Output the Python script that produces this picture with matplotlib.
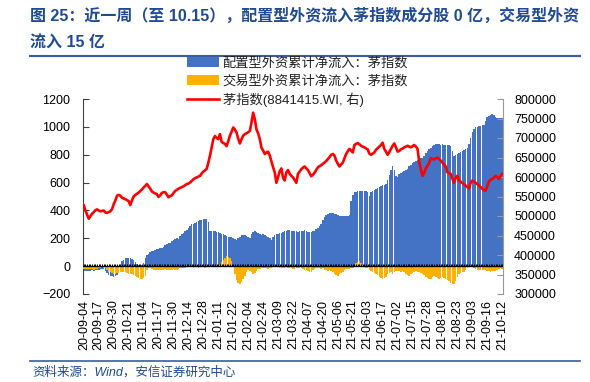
import numpy as np
import matplotlib.pyplot as plt
from matplotlib.patches import Patch
from matplotlib.lines import Line2D

plt.rcParams['font.family'] = ['Liberation Sans', 'Noto Sans CJK SC']

# x tick labels (every 9th trading day)
tick_labels = ['20-09-04', '20-09-17', '20-09-30', '20-10-21', '20-11-04', '20-11-17',
               '20-11-30', '20-12-14', '20-12-28', '21-01-11', '21-01-22', '21-02-04',
               '21-02-24', '21-03-09', '21-03-22', '21-04-07', '21-04-20', '21-05-06',
               '21-05-21', '21-06-03', '21-06-17', '21-07-02', '21-07-15', '21-07-28',
               '21-08-10', '21-08-23', '21-09-03', '21-09-16', '21-10-12']

# 配置型外资累计净流入 (亿, left axis)
alloc_flow = [
    -35, -36, -38, -35, -33, -30, -32, -30, -28, -25,
    -22, -18, -20, -35, -50, -62, -70, -74, -75, -70,
    -62, -40, 10, 35, 45, 55, 62, 60, 58, 50,
    45, 30, 15, 5, 2, 5, 20, 55, 80, 88,
    100, 110, 108, 115, 120, 125, 130, 133, 140, 150,
    157, 163, 169, 178, 188, 196, 205, 195, 215, 228,
    240, 250, 262, 276, 290, 300, 306, 312, 318, 324,
    328, 334, 340, 342, 340, 320, 252, 250, 255, 252,
    248, 245, 240, 232, 228, 222, 215, 210, 212, 208,
    200, 195, 190, 200, 210, 222, 225, 220, 215, 208,
    205, 230, 245, 250, 243, 235, 228, 225, 230, 225,
    218, 212, 205, 190, 210, 225, 230, 232, 235, 240,
    245, 250, 252, 258, 262, 255, 250, 252, 255, 248,
    250, 253, 255, 258, 250, 245, 248, 246, 250, 255,
    268, 275, 290, 300, 330, 355, 365, 372, 378, 383,
    380, 375, 372, 365, 362, 360, 358, 362, 360, 358,
    365, 470, 514, 530, 535, 538, 540, 538, 536, 540,
    538, 530, 502, 530, 540, 548, 552, 562, 568, 575,
    580, 585, 590, 620, 657, 690, 716, 690, 650, 640,
    660, 671, 678, 685, 693, 700, 716, 725, 738, 748,
    755, 764, 770, 776, 776, 790, 812, 825, 838, 850,
    859, 870, 876, 875, 874, 872, 875, 873, 871, 872,
    870, 860, 830, 788, 800, 808, 815, 822, 828, 835,
    840, 847, 880, 920, 966, 985, 1000, 1002, 1005, 1008,
    1010, 1014, 1040, 1073, 1080, 1085, 1090, 1085, 1070, 1062,
    1060, 1065, 1062,
]

# 交易型外资累计净流入 (亿, left axis)
trade_flow = [
    -20, -22, -24, -20, -18, -22, -25, -20, -18, -15,
    -10, -8, -10, -12, -30, -40, -45, -50, -55, -57,
    -52, -48, -45, -42, -40, -45, -50, -55, -60, -58,
    -65, -72, -78, -85, -90, -93, -85, -70, -30, -15,
    -10, -20, -25, -28, -30, -28, -25, -30, -28, -22,
    -25, -30, -28, -25, -22, -25, -28, -20, -15, -12,
    -15, -10, 5, 10, -5, -8, -10, -6, -8, -10,
    -7, -5, -8, -10, -6, -4, -3, -5, -8, -6,
    -4, -2, 10, 30, 45, 60, 72, 68, 55, 35,
    10, -60, -100, -120, -128, -115, -95, -70, -40, -30,
    -35, -45, -57, -50, -35, -20, -18, -15, -12, -10,
    -15, -18, -12, -10, -8, -5, 5, -5, -10, -12,
    -15, -10, -8, -12, -15, -10, -18, -20, -15, -12,
    -10, -15, -20, -25, -30, -36, -45, -40, -30, -20,
    -15, -12, -15, -18, -15, -25, -30, -32, -28, -35,
    -45, -55, -62, -69, -60, -52, -45, -30, -20, -18,
    -22, -15, -10, 5, 20, 30, 38, 25, 10, -8,
    -10, -12, -30, -38, -45, -50, -55, -62, -75, -85,
    -93, -88, -75, -60, -50, -45, -55, -40, -32, -35,
    -38, -40, -35, -45, -55, -62, -69, -60, -50, -42,
    -35, -40, -45, -50, -55, -65, -75, -85, -90, -93,
    -80, -70, -75, -85, -90, -82, -78, -85, -95, -100,
    -110, -118, -125, -128, -110, -80, -60, -50, -45, -40,
    -30, -10, -5, -3, -8, -15, -20, -25, -28, -30,
    -25, -28, -30, -35, -38, -40, -36, -32, -38, -25,
    -18, -15, -20,
]

# 茅指数 8841415.WI (thousand points, right axis)
mao_index_k = [
    527, 514, 503, 493, 500, 506, 510, 515, 517, 514,
    512, 513, 514, 509, 508, 510, 512, 518, 530, 540,
    552, 554, 552, 547, 545, 543, 541, 538, 528, 540,
    550, 554, 557, 560, 564, 568, 573, 577, 582, 576,
    570, 563, 560, 558, 556, 549, 553, 559, 561, 561,
    555, 548, 551, 553, 559, 564, 567, 570, 572, 574,
    576, 579, 582, 583, 586, 590, 594, 597, 599, 601,
    603, 609, 614, 617, 621, 637, 655, 676, 697, 705,
    700, 697, 710, 690, 687, 685, 679, 692, 706, 716,
    727, 722, 714, 698, 686, 697, 706, 710, 712, 715,
    718, 740, 765, 748, 722, 712, 697, 675, 668, 659,
    663, 665, 655, 640, 625, 612, 585, 600, 615, 622,
    598, 591, 612, 618, 608, 603, 599, 592, 585, 608,
    614, 620, 624, 627, 622, 618, 610, 602, 606, 611,
    618, 625, 628, 630, 634, 637, 641, 646, 651, 657,
    659, 655, 642, 634, 627, 632, 637, 648, 659, 666,
    672, 668, 663, 682, 685, 687, 684, 680, 678, 676,
    673, 671, 660, 657, 660, 663, 670, 674, 678, 682,
    688, 672, 665, 657, 664, 672, 680, 686, 676, 665,
    667, 671, 673, 676, 678, 680, 678, 676, 679, 682,
    678, 672, 640, 620, 603, 610, 622, 629, 636, 648,
    646, 645, 648, 650, 646, 642, 637, 632, 627, 612,
    610, 608, 596, 585, 598, 603, 591, 588, 585, 581,
    578, 574, 571, 585, 591, 588, 585, 582, 578, 574,
    570, 566, 565, 576, 588, 593, 595, 598, 603, 600,
    595, 602, 608,
]

title_line1 = '图 25：近一周（至 10.15），配置型外资流入茅指数成分股 0 亿，交易型外资'
title_line2 = '流入 15 亿'
source_text = '资料来源：Wind，安信证券研究中心'
legend_labels = ['配置型外资累计净流入：茅指数', '交易型外资累计净流入：茅指数', '茅指数(8841415.WI, 右)']


def main():
    n = len(alloc_flow)
    x = np.arange(n)
    blue = '#4472C4'
    orange = '#FFB000'
    navy = '#1F4A96'

    fig = plt.figure(figsize=(5.9, 3.82), dpi=100)
    ax = fig.add_axes([83 / 590, 88 / 382, 420 / 590, 195 / 382])

    ax.bar(x, alloc_flow, width=0.9, color=blue, linewidth=0, zorder=2)
    ax.bar(x, trade_flow, width=0.9, color=orange, linewidth=0, zorder=3)
    ax.axhline(0, color='black', lw=1.0, zorder=4)
    ax.vlines(x, 0, 18, color='black', lw=0.7, zorder=4)

    ax.set_ylim(-200, 1200)
    ax.set_yticks(range(-200, 1201, 200))
    ax.set_xlim(-0.5, n - 0.5)
    ax.set_xticks(np.arange(0, n, 9))
    ax.set_xticklabels(tick_labels, rotation=90, fontsize=9)
    ax.tick_params(axis='x', length=0, pad=4)
    ax.tick_params(axis='y', direction='in', length=4, labelsize=9, pad=9, color='#404040')
    for s in ['top', 'right', 'bottom']:
        ax.spines[s].set_visible(False)
    ax.spines['left'].set_color('#404040')

    ax2 = ax.twinx()
    ax2.plot(x, np.array(mao_index_k) * 1000, color='#FF0000', lw=1.9, zorder=5)
    ax2.set_ylim(300000, 800000)
    ax2.set_yticks(range(300000, 800001, 50000))
    ax2.tick_params(axis='y', direction='in', length=4, labelsize=9, pad=8, color='#999999')
    for s in ['top', 'left', 'bottom']:
        ax2.spines[s].set_visible(False)
    ax2.spines['right'].set_color('#999999')

    handles = [Patch(facecolor=blue, edgecolor='none'),
               Patch(facecolor=orange, edgecolor='none'),
               Line2D([], [], color='#FF0000', lw=1.9)]
    fig.legend(handles, legend_labels, loc='upper left', bbox_to_anchor=(187 / 590, 1 - 57 / 382),
               frameon=False, fontsize=9.5, handlelength=2.4, handleheight=0.8,
               labelspacing=0.38, handletextpad=0.3, borderpad=0, borderaxespad=0,
               labelcolor='#222222')

    fig.text(30 / 590, 1 - 16 / 382, title_line1, fontsize=11.5, fontweight='bold', color=navy, va='center')
    fig.text(30 / 590, 1 - 43 / 382, title_line2, fontsize=11.5, fontweight='bold', color=navy, va='center')
    fig.add_artist(Line2D([30 / 590, 580 / 590], [1 - 56 / 382] * 2, color='#3B5BA5', lw=1.5))
    fig.add_artist(Line2D([30 / 590, 580 / 590], [1 - 361 / 382] * 2, color='#3B5BA5', lw=1.2))
    fig.text(32 / 590, 1 - 372 / 382, source_text, fontsize=9, style='italic', color=navy, va='center')

    fig.savefig('out.png', dpi=100)
    plt.close(fig)


if __name__ == '__main__':
    main()
